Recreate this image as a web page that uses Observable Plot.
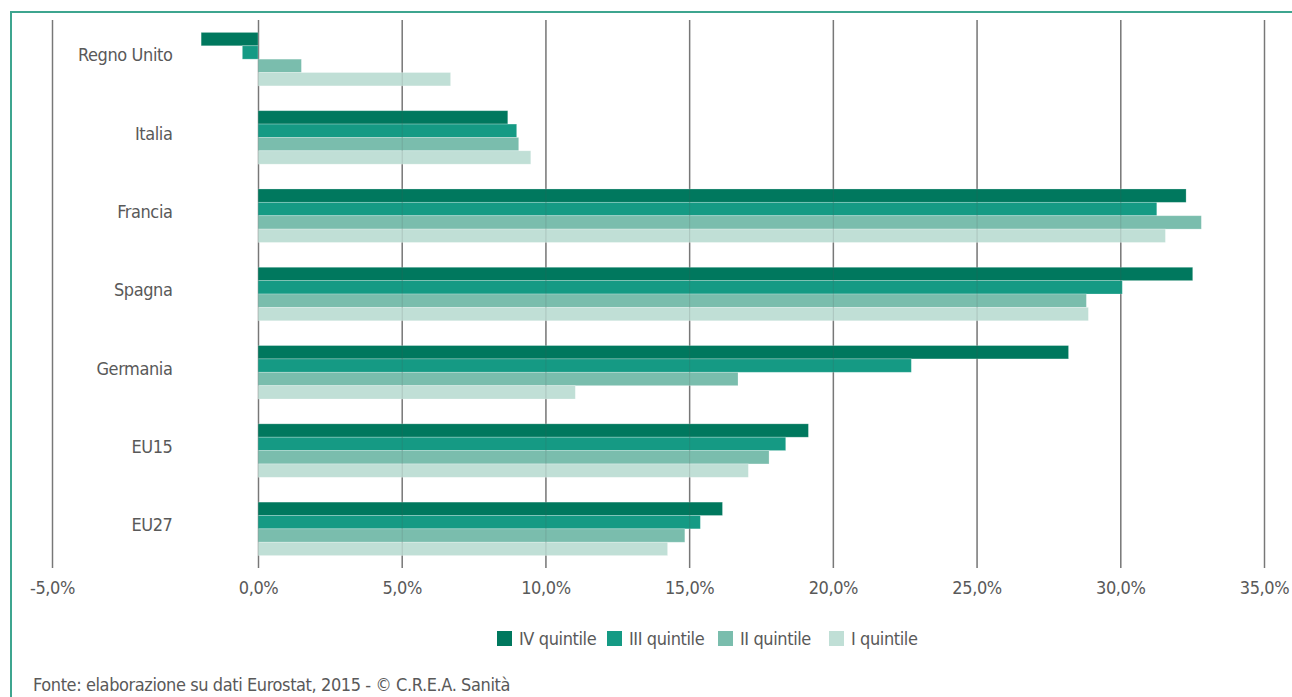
<!DOCTYPE html>
<html>
<head>
<meta charset="utf-8">
<script src="https://cdn.jsdelivr.net/npm/d3@7"></script>
<script src="https://cdn.jsdelivr.net/npm/@observablehq/plot@0.6"></script>
<style>
  html, body { margin: 0; padding: 0; background: #fff; }
  body { width: 1292px; height: 697px; position: relative; overflow: hidden;
         font-family: 'DejaVu Sans Condensed', 'DejaVu Sans', sans-serif; font-stretch: condensed; color: #595959; }
  #frame { position: absolute; left: 10px; top: 11px; width: 1400px; height: 800px;
           border-top: 2px solid #3ea58f; border-left: 2px solid #3ea58f; box-sizing: border-box; }
  #chart { position: absolute; left: 0; top: 0; }
  .item { position: absolute; top: 628px; display: flex; align-items: center; font-size: 18px; letter-spacing: -0.4px; white-space: nowrap; }
  .sw { width: 15px; height: 15px; margin-right: 7px; }
  #caption { position: absolute; left: 33px; top: 674px; font-size: 18px; letter-spacing: -0.4px; white-space: nowrap; }
</style>
</head>
<body>
<div id="frame"></div>
<div id="chart"></div>
<div id="legend"></div>
<div id="caption">Fonte: elaborazione su dati Eurostat, 2015 - © C.R.E.A. Sanità</div>
<script>
const countries = ["Regno Unito", "Italia", "Francia", "Spagna", "Germania", "EU15", "EU27"];
const quintiles = ["IV quintile", "III quintile", "II quintile", "I quintile"];
const q4 = [-1.38, 8.69, 32.29, 32.52, 28.2, 19.15, 16.16];
const q3 = [-0.38, 9.0, 31.27, 30.07, 22.73, 18.36, 15.39];
const q2 = [1.51, 9.07, 32.82, 28.82, 16.7, 17.78, 14.85];
const q1 = [6.7, 9.49, 31.57, 28.89, 11.04, 17.06, 14.25];
const colors = ["#00785e", "#159a84", "#7abdad", "#c0dfd6"];
const xTicks = [-5, 0, 5, 10, 15, 20, 25, 30, 35];

const series = [q4, q3, q2, q1];
const rows = countries.flatMap((c, i) => series.map((s, j) => ({country: c, ci: i, qi: j, quintile: quintiles[j], value: s[i]})));
const G = 0.683; // group height in band units
const bw = G / quintiles.length;

const fmt = v => v.toFixed(1).replace(".", ",") + "%";
const font = "'DejaVu Sans Condensed', 'DejaVu Sans', sans-serif";

const plot = Plot.plot({
  width: 1292,
  height: 610,
  marginLeft: 52,
  marginRight: 28,
  marginTop: 20,
  marginBottom: 42,
  style: {fontFamily: font, fontSize: "18px", letterSpacing: "-0.4px", color: "#595959", background: "transparent", fontStretch: "condensed"},
  x: {type: "linear", domain: [-5, 0, 35], range: [52, 258, 1264]},
  y: {domain: [countries.length - 0.5, -0.5]},
  color: {domain: quintiles, range: colors},
  marks: [
    Plot.ruleX(xTicks, {y1: -0.5, y2: countries.length - 0.5, stroke: "#7f7f7f", strokeWidth: 1.5}),
    Plot.rect(rows, {
      x1: 0, x2: "value",
      y1: d => d.ci - G / 2 + d.qi * bw,
      y2: d => d.ci - G / 2 + (d.qi + 1) * bw,
      fill: "quintile",
      stroke: "white", strokeOpacity: 0.3, strokeWidth: 0.8
    }),
    Plot.ruleX(xTicks, {y1: -0.5, y2: countries.length - 0.5, stroke: "#555", strokeWidth: 1, strokeOpacity: 0.18}),
    Plot.axisX({ticks: xTicks, tickFormat: fmt, tickSize: 0, tickPadding: 13, label: null, fill: "#595959"}),
    Plot.axisY({ticks: d3.range(countries.length), tickFormat: i => countries[i], tickSize: 0, tickPadding: 0, dx: 120, dy: -4, label: null, fill: "#595959"})
  ]
});
document.getElementById("chart").appendChild(plot);

const legendX = [497, 607, 718, 829];
const legend = document.getElementById("legend");
quintiles.forEach((q, j) => {
  const it = document.createElement("div");
  it.className = "item";
  it.style.left = legendX[j] + "px";
  const sw = document.createElement("span");
  sw.className = "sw";
  sw.style.background = colors[j];
  const t = document.createElement("span");
  t.textContent = q;
  it.appendChild(sw);
  it.appendChild(t);
  legend.appendChild(it);
});
</script>
</body>
</html>
